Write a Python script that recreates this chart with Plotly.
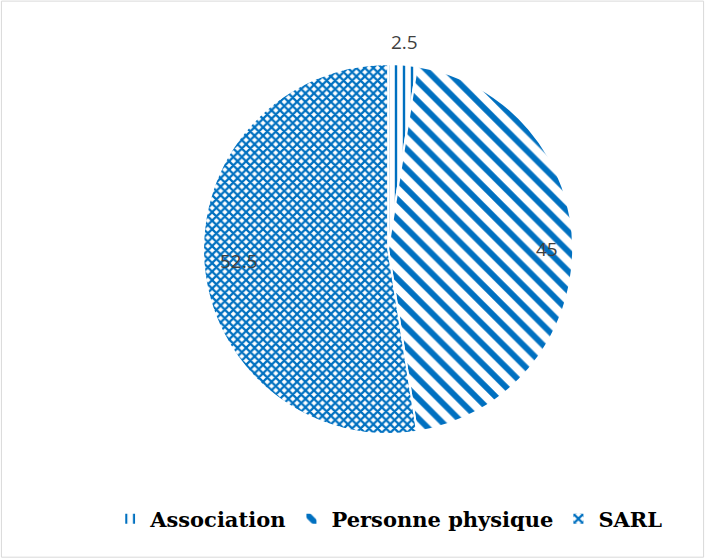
import math
import plotly.graph_objects as go

CATEGORIES = ["Association", "Personne physique", "SARL"]
VALUES = [2.5, 45, 52.5]
PATTERNS = ["|", "\\", "x"]
# how far out (fraction of radius) each data label sits
LABEL_RADIUS = [1.12, 0.86, 0.81]

BLUE = "#0070C0"
W, H = 705, 560
DOM_X = [0.288, 0.813]
DOM_Y = [0.2232, 0.8875]

fig = go.Figure(
    go.Pie(
        labels=CATEGORIES,
        values=VALUES,
        sort=False,
        direction="clockwise",
        rotation=0,
        textinfo="none",
        marker=dict(
            colors=["white"] * 3,
            line=dict(color="white", width=2),
            pattern=dict(
                shape=PATTERNS,
                fgcolor=BLUE,
                bgcolor="white",
                fillmode="replace",
                size=[8, 14, 6],
                solidity=[0.3, 0.42, 0.6],
            ),
        ),
        domain=dict(x=DOM_X, y=DOM_Y),
        hoverinfo="label+value",
    )
)

# data labels placed along each slice's mid angle
cx = sum(DOM_X) / 2
cy = sum(DOM_Y) / 2
r_px = min((DOM_X[1] - DOM_X[0]) * W, (DOM_Y[1] - DOM_Y[0]) * H) / 2
total = sum(VALUES)
start = 0.0
annotations = []
for val, rf in zip(VALUES, LABEL_RADIUS):
    mid = (start + val / 2) / total * 2 * math.pi
    start += val
    annotations.append(
        dict(
            x=cx + math.sin(mid) * r_px * rf / W,
            y=cy + math.cos(mid) * r_px * rf / H,
            xref="paper",
            yref="paper",
            xanchor="center",
            yanchor="middle",
            text=f"{val:g}",
            showarrow=False,
            font=dict(family="Open Sans", size=19, color="#404040"),
        )
    )

fig.update_layout(
    width=W,
    height=H,
    autosize=False,
    margin=dict(l=0, r=0, t=0, b=0),
    paper_bgcolor="white",
    showlegend=True,
    annotations=annotations,
    legend=dict(
        orientation="h",
        x=0.552,
        xanchor="center",
        y=0.073,
        yanchor="middle",
        font=dict(family="DejaVu Serif", size=21, color="#000000", weight="bold"),
        itemwidth=30,
        tracegroupgap=0,
    ),
    shapes=[
        dict(
            type="rect",
            xref="paper",
            yref="paper",
            x0=0.002,
            x1=0.998,
            y0=0.005,
            y1=0.998,
            line=dict(color="#D9D9D9", width=1),
        )
    ],
)

# drop the default 8px page margin so the figure sits at the window's corner
fig.write_html(
    "out.html",
    config={"displayModeBar": False},
    post_script="document.body.style.margin='0';",
)
